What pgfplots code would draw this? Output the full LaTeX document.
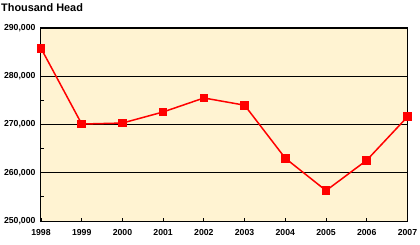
\documentclass[border=0pt]{standalone}
\usepackage{pgfplots}
\pgfplotsset{compat=1.18}
\usepackage{fontspec}
\setmainfont{Liberation Sans}
\definecolor{bgy}{HTML}{FFF3D2}
\begin{document}
\begin{tikzpicture}[x=1pt,y=1pt]
\path[use as bounding box] (-41,-23) rectangle (379,221);
\begin{axis}[
  at={(0,0)}, anchor=south west,
  scale only axis, width=366.5pt, height=193pt,
  xmin=1998, xmax=2007, ymin=250000, ymax=290000,
  axis background/.style={fill=bgy},
  axis line style={black, line width=1pt},
  xtick={1998,...,2007},
  minor x tick num=1,
  ytick={250000,260000,270000,280000,290000},
  minor y tick num=1,
  ymajorgrids, major grid style={black, line width=0.8pt},
  tick align=inside,
  major tick length=3pt, minor tick length=3pt,
  tick style={black, line width=0.8pt},
  xtick pos=bottom, ytick pos=left,
  x tick label style={font=\fontsize{8.7}{10}\selectfont\bfseries, yshift=-5pt},
  y tick label style={font=\fontsize{8.7}{10}\selectfont\bfseries, xshift=-2pt},
  xticklabel={\pgfmathprintnumber[fixed,1000 sep={}]{\tick}},
  yticklabel={\pgfmathprintnumber[fixed,1000 sep={,}]{\tick}},
  scaled y ticks=false,
  /pgf/number format/assume math mode=true,
  clip=false,
]
\addplot[color=red, line width=1.5pt, mark=square*, mark size=3.8pt, mark options={solid, fill=red, draw=red, line width=0pt}]
coordinates {
(1998,285800)
(1999,270100)
(2000,270300)
(2001,272600)
(2002,275500)
(2003,274000)
(2004,263000)
(2005,256300)
(2006,262600)
(2007,271600)
};
\end{axis}
\node[anchor=north west, inner sep=0pt, font=\fontsize{10.9}{12}\selectfont\bfseries] at (-40,218) {Thousand Head};
\end{tikzpicture}
\end{document}
